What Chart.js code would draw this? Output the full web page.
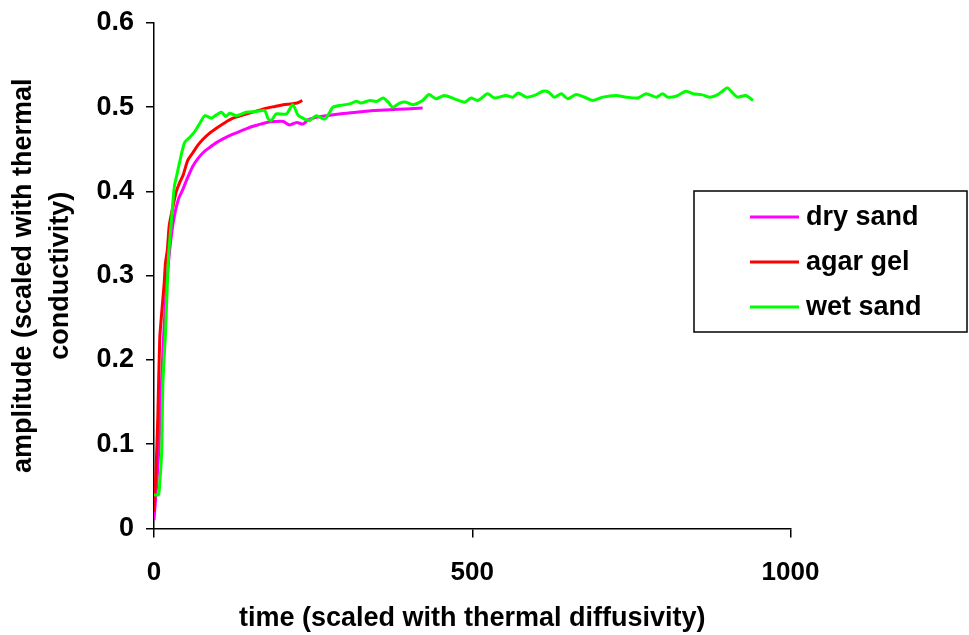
<!DOCTYPE html>
<html>
<head>
<meta charset="utf-8">
<script src="https://cdn.jsdelivr.net/npm/chart.js@4/dist/chart.umd.min.js"></script>
<style>
  html, body { margin: 0; padding: 0; background: #ffffff; }
  #wrap { width: 969px; height: 635px; }
</style>
</head>
<body>
<div id="wrap"><canvas id="c" width="969" height="635"></canvas></div>
<script>
// ---- data ----
const seriesNames = ['dry sand', 'agar gel', 'wet sand'];
const seriesColors = ['#ff00ff', '#ff0000', '#00ff00'];

const dryTime = [0, 2, 5, 8, 11, 14, 17, 20, 23, 27, 32, 38, 45, 52, 61, 69, 77, 87, 98, 110,
  124, 137, 150, 163, 177, 190, 203, 213, 224, 234, 242, 255, 271, 291, 318, 344, 370, 396, 422];
const dryAmp = [0.010, 0.030, 0.060, 0.100, 0.160, 0.210, 0.255, 0.290, 0.318, 0.346,
  0.371, 0.390, 0.402, 0.415, 0.430, 0.439, 0.446, 0.452, 0.458, 0.463,
  0.468, 0.472, 0.476, 0.479, 0.482, 0.483, 0.483, 0.479, 0.482, 0.480,
  0.485, 0.488, 0.490, 0.492, 0.494, 0.496, 0.497, 0.498, 0.499];

const agarTime = [0, 1, 3, 6, 9, 12, 16, 18, 21, 24, 30, 35, 40, 46, 53, 61, 69, 77, 87, 98,
  110, 124, 137, 150, 163, 177, 190, 203, 215, 225, 233];
const agarAmp = [0.020, 0.040, 0.065, 0.133, 0.225, 0.255, 0.291, 0.315, 0.331, 0.360,
  0.383, 0.400, 0.410, 0.420, 0.437, 0.446, 0.455, 0.462, 0.469, 0.475,
  0.481, 0.487, 0.490, 0.493, 0.496, 0.499, 0.501, 0.503, 0.504, 0.505, 0.508];

const wetTime = [0, 7, 9, 12, 14, 18, 20, 23, 27, 32, 36, 40, 48, 56, 64, 72, 80, 90, 98, 106,
  113, 119, 129, 145, 161, 174, 179, 184, 192, 208, 218, 226, 234, 244, 255, 268, 276, 281, 291, 307,
  318, 325, 339, 350, 360, 368, 375, 386, 396, 407, 422, 432, 443, 456, 472, 488, 498, 509, 524, 535,
  553, 564, 572, 585, 598, 611, 620, 629, 640, 650, 663, 679, 689, 705, 726, 742, 760, 773, 789, 799,
  807, 820, 836, 847, 860, 873, 886, 893, 901, 909, 917, 930, 941];
const wetAmp = [0.040, 0.040, 0.054, 0.090, 0.173, 0.232, 0.271, 0.325, 0.362, 0.406,
  0.420, 0.434, 0.458, 0.464, 0.471, 0.481, 0.490, 0.487, 0.491, 0.494,
  0.489, 0.493, 0.490, 0.494, 0.495, 0.496, 0.487, 0.484, 0.492, 0.492,
  0.503, 0.491, 0.487, 0.484, 0.490, 0.486, 0.494, 0.500, 0.502, 0.504,
  0.507, 0.505, 0.508, 0.507, 0.511, 0.506, 0.500, 0.505, 0.506, 0.503,
  0.508, 0.515, 0.510, 0.514, 0.510, 0.506, 0.511, 0.508, 0.516, 0.511,
  0.514, 0.512, 0.517, 0.512, 0.514, 0.519, 0.518, 0.512, 0.516, 0.510,
  0.515, 0.511, 0.508, 0.512, 0.514, 0.512, 0.511, 0.516, 0.512, 0.516,
  0.512, 0.513, 0.519, 0.516, 0.515, 0.512, 0.515, 0.519, 0.523, 0.517,
  0.512, 0.514, 0.508];

const xTicks = [0, 500, 1000];
const xTickLabels = ['0', '500', '1000'];
const yTicks = [0, 0.1, 0.2, 0.3, 0.4, 0.5, 0.6];
const yTickLabels = ['0', '0.1', '0.2', '0.3', '0.4', '0.5', '0.6'];
const xTitle = 'time (scaled with thermal diffusivity)';
const yTitle = ['amplitude (scaled with thermal', 'conductivity)'];

// ---- build chart ----
const FONT = '"Liberation Sans", Arial, Helvetica, sans-serif';
function toPoints(xs, ys) { return xs.map((x, i) => ({ x: x, y: ys[i] })); }

const datasets = [
  { label: seriesNames[0], data: toPoints(dryTime, dryAmp), borderColor: seriesColors[0], order: 3 },
  { label: seriesNames[1], data: toPoints(agarTime, agarAmp), borderColor: seriesColors[1], order: 2 },
  { label: seriesNames[2], data: toPoints(wetTime, wetAmp), borderColor: seriesColors[2], order: 1 }
].map(d => Object.assign(d, {
  showLine: true, fill: false, pointRadius: 0, pointHoverRadius: 0,
  borderWidth: 3, tension: 0.25, backgroundColor: d.borderColor
}));

const boxLegend = {
  id: 'boxLegend',
  afterDraw(chart) {
    const ctx = chart.ctx;
    const bx = 694, by = 191, bw = 273, bh = 141;
    ctx.save();
    ctx.fillStyle = '#ffffff';
    ctx.fillRect(bx, by, bw, bh);
    ctx.strokeStyle = '#000000';
    ctx.lineWidth = 1.5;
    ctx.strokeRect(bx, by, bw, bh);
    ctx.font = 'bold 27px ' + FONT;
    ctx.textBaseline = 'middle';
    ctx.textAlign = 'left';
    const rows = [217, 262, 307];
    chart.data.datasets.forEach((ds, i) => {
      const y = rows[i];
      ctx.strokeStyle = ds.borderColor;
      ctx.lineWidth = 3;
      ctx.beginPath();
      ctx.moveTo(750, y);
      ctx.lineTo(799, y);
      ctx.stroke();
      ctx.fillStyle = '#000000';
      ctx.fillText(ds.label, 806, y + 1);
    });
    ctx.restore();
  }
};

new Chart(document.getElementById('c'), {
  type: 'scatter',
  data: { datasets: datasets },
  plugins: [boxLegend],
  options: {
    responsive: false,
    animation: false,
    devicePixelRatio: 1,
    layout: { padding: { top: 23, right: 178.5, left: 0, bottom: 0 } },
    plugins: { legend: { display: false }, tooltip: { enabled: false } },
    scales: {
      x: {
        type: 'linear', min: 0, max: 1000,
        afterBuildTicks: s => { s.ticks = xTicks.map(v => ({ value: v })); },
        afterFit: s => { s.height = 106.5; s.paddingLeft = 0; s.paddingRight = 0; },
        ticks: { color: '#000', font: { family: FONT, size: 26, weight: 'bold' }, padding: 20, maxRotation: 0, autoSkip: false,
          callback: (v) => { const i = xTicks.indexOf(v); return i >= 0 ? xTickLabels[i] : ''; } },
        grid: { drawOnChartArea: false, drawTicks: true, tickLength: 9, color: '#000', lineWidth: 1.5 },
        border: { display: true, color: '#000', width: 1.5 },
        title: { display: true, text: xTitle, color: '#000', font: { family: FONT, size: 27, weight: 'bold' }, padding: { top: 0, bottom: 0 } }
      },
      y: {
        type: 'linear', min: 0, max: 0.6,
        afterBuildTicks: s => { s.ticks = yTicks.map(v => ({ value: v })); },
        afterFit: s => { s.width = 154; s.paddingTop = 0; s.paddingBottom = 0; },
        ticks: { color: '#000', font: { family: FONT, size: 27, weight: 'bold' }, padding: 12, autoSkip: false,
          callback: (v) => { const i = yTicks.indexOf(v); return i >= 0 ? yTickLabels[i] : ''; } },
        grid: { drawOnChartArea: false, drawTicks: true, tickLength: 8, color: '#000', lineWidth: 1.5 },
        border: { display: true, color: '#000', width: 1.5 },
        title: { display: true, text: yTitle, color: '#000', font: { family: FONT, size: 27, weight: 'bold', lineHeight: 1.37 }, padding: { top: 5, bottom: 0 } }
      }
    }
  }
});
</script>
</body>
</html>
